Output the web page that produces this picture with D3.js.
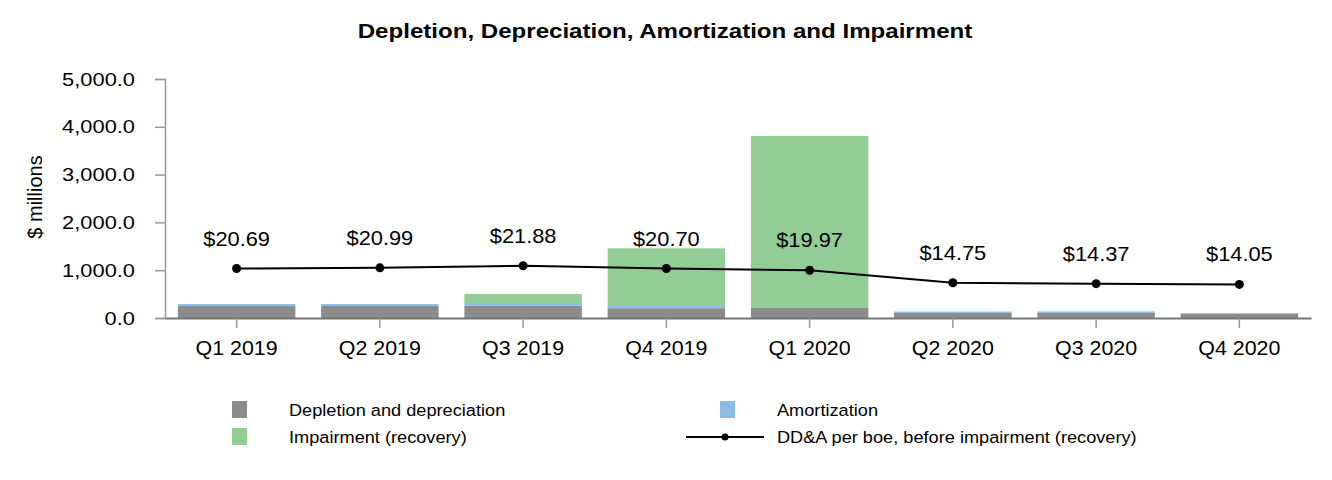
<!DOCTYPE html>
<html>
<head>
<meta charset="utf-8">
<script src="https://cdn.jsdelivr.net/npm/d3@7"></script>
<style>
  body { margin: 0; background: #fff; }
  svg { display: block; font-family: "Liberation Sans", Arial, sans-serif; }
</style>
</head>
<body>
<svg id="chart"></svg>
<script>
// Daten
const quarters     = ["Q1 2019", "Q2 2019", "Q3 2019", "Q4 2019", "Q1 2020", "Q2 2020", "Q3 2020", "Q4 2020"];
const depletion    = [250, 250, 255, 205, 210, 105, 105, 95];
const amortization = [42, 42, 38, 48, 0, 30, 32, 0];
const impairment   = [0, 0, 210, 1205, 3600, 0, 0, 0];
const ddaPerBoe    = [20.69, 20.99, 21.88, 20.70, 19.97, 14.75, 14.37, 14.05];
const yTicks       = [0, 1000, 2000, 3000, 4000, 5000];

const width = 1332, height = 480;
const margin = { top: 79, right: 21, bottom: 162, left: 165 };
const innerWidth  = width  - margin.left - margin.right;
const innerHeight = height - margin.top  - margin.bottom;

const colors = { dep: "#8c8c8c", amo: "#8dbde6", imp: "#92cd96" };

// Text leicht horizontal strecken (Referenz wirkt breiter), um den Ankerpunkt
function stretch(sel, sx) {
  sel.each(function () {
    const t = d3.select(this);
    const x = +t.attr("x") || 0, y = +t.attr("y") || 0;
    t.attr("transform", `translate(${x},${y}) scale(${sx},1) translate(${-x},${-y})`);
  });
}

const svg = d3.select("#chart")
  .attr("width", width)
  .attr("height", height)
  .attr("viewBox", `0 0 ${width} ${height}`);

// Titel
svg.append("text")
  .attr("x", 665).attr("y", 38)
  .attr("text-anchor", "middle")
  .attr("font-size", "20.5px")
  .attr("font-weight", "700")
  .attr("fill", "#000")
  .text("Depletion, Depreciation, Amortization and Impairment")
  .call(stretch, 1.175);

const g = svg.append("g")
  .attr("transform", `translate(${margin.left},${margin.top})`);

const x = d3.scaleBand()
  .domain(quarters)
  .range([0, innerWidth])
  .paddingInner(0.18)
  .paddingOuter(0.09);

const y = d3.scaleLinear().domain([0, 5000]).range([innerHeight, 0]);
const y2 = d3.scaleLinear().domain([0, 100]).range([innerHeight, 0]);

// gestapelte Balken
const rows = quarters.map((q, i) => ({
  q, dep: depletion[i], amo: amortization[i], imp: impairment[i]
}));
const stack = d3.stack().keys(["dep", "amo", "imp"])(rows);

g.selectAll("g.layer")
  .data(stack)
  .join("g")
  .attr("class", "layer")
  .attr("fill", d => colors[d.key])
  .selectAll("rect")
  .data(d => d)
  .join("rect")
  .attr("x", d => x(d.data.q))
  .attr("width", x.bandwidth())
  .attr("y", d => y(d[1]))
  .attr("height", d => y(d[0]) - y(d[1]));

// Y-Achse
const yAxis = g.append("g")
  .call(d3.axisLeft(y).tickValues(yTicks).tickSize(10).tickPadding(20)
    .tickFormat(d3.format(",.1f")));
yAxis.select(".domain").attr("stroke", "#999").attr("stroke-width", 1.5);
yAxis.selectAll(".tick line").attr("stroke", "#999").attr("stroke-width", 1.5);
yAxis.selectAll(".tick text")
  .attr("font-size", "19px").attr("fill", "#000")
  .attr("font-family", "Liberation Sans, Arial, sans-serif")
  .call(stretch, 1.15);

// X-Achse
const xAxis = g.append("g")
  .attr("transform", `translate(0,${innerHeight})`)
  .call(d3.axisBottom(x).tickSize(10).tickSizeOuter(0).tickPadding(13));
xAxis.select(".domain").attr("stroke", "#777").attr("stroke-width", 2);
xAxis.selectAll(".tick line").attr("stroke", "#999").attr("stroke-width", 1.5);
xAxis.selectAll(".tick text")
  .attr("font-size", "20px").attr("fill", "#000")
  .attr("font-family", "Liberation Sans, Arial, sans-serif")
  .call(stretch, 1.07);

// Y-Achsen-Beschriftung
svg.append("text")
  .attr("transform", "rotate(-90)")
  .attr("x", -197).attr("y", 42)
  .attr("text-anchor", "middle")
  .attr("font-size", "20px")
  .attr("fill", "#000")
  .text("$ millions");

// Linie DD&A per boe
const cx = (d, i) => x(quarters[i]) + x.bandwidth() / 2;
const line = d3.line()
  .x((d, i) => cx(d, i))
  .y(d => y2(d));

g.append("path")
  .datum(ddaPerBoe)
  .attr("fill", "none")
  .attr("stroke", "#000")
  .attr("stroke-width", 2)
  .attr("d", line);

g.selectAll("circle.pt")
  .data(ddaPerBoe)
  .join("circle")
  .attr("class", "pt")
  .attr("cx", cx)
  .attr("cy", d => y2(d))
  .attr("r", 4.5)
  .attr("fill", "#000");

g.selectAll("text.lbl")
  .data(ddaPerBoe)
  .join("text")
  .attr("class", "lbl")
  .attr("x", cx)
  .attr("y", d => y2(d) - 23)
  .attr("text-anchor", "middle")
  .attr("font-size", "21px")
  .attr("fill", "#000")
  .text(d => "$" + d.toFixed(2))
  .call(stretch, 1.04);

// Legende
const legendItems = [
  { label: "Depletion and depreciation", type: "rect", color: colors.dep, x: 232, y: 410 },
  { label: "Amortization", type: "rect", color: colors.amo, x: 720, y: 410 },
  { label: "Impairment (recovery)", type: "rect", color: colors.imp, x: 232, y: 437 },
  { label: "DD&A per boe, before impairment (recovery)", type: "line", color: "#000", x: 720, y: 437 }
];

const legend = svg.append("g");
legendItems.forEach(it => {
  const lg = legend.append("g").attr("transform", `translate(${it.x},${it.y})`);
  if (it.type === "rect") {
    lg.append("rect")
      .attr("x", 0).attr("y", -9)
      .attr("width", 15).attr("height", 17)
      .attr("fill", it.color);
  } else {
    lg.append("line")
      .attr("x1", -34).attr("x2", 44)
      .attr("y1", 0).attr("y2", 0)
      .attr("stroke", it.color).attr("stroke-width", 2);
    lg.append("circle").attr("cx", 5).attr("cy", 0).attr("r", 3.5).attr("fill", it.color);
  }
  lg.append("text")
    .attr("x", 57).attr("y", 6)
    .attr("font-size", "17px")
    .attr("fill", "#000")
    .text(it.label)
    .call(stretch, 1.07);
});
</script>
</body>
</html>
